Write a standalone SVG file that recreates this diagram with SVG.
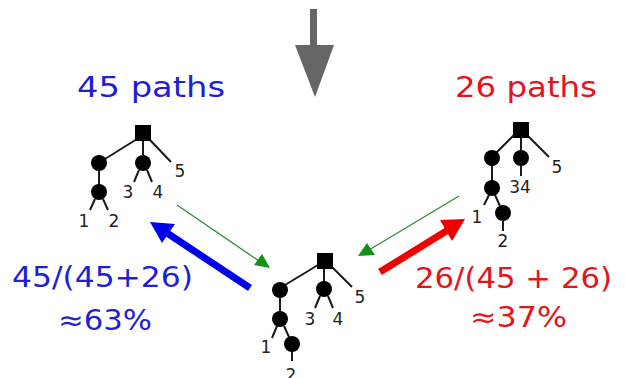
<svg xmlns="http://www.w3.org/2000/svg" width="625" height="378" viewBox="0 0 625 378">
<style>
.e{stroke:#1a1a1a;stroke-width:2;fill:none}
.n{fill:#000}
.d{font-family:"DejaVu Sans",sans-serif;font-size:17px;fill:#222;text-anchor:middle}
.big{font-family:"DejaVu Sans",sans-serif;font-size:28px;text-anchor:middle}
.b{fill:#1f1fd6}
.r{fill:#e4141c}
.g{stroke:#2e8b2e;stroke-width:1.3}
.gh{fill:#139013}
</style>
<rect width="625" height="378" fill="#fff"/>
<g id="down-arrow" fill="#666">
<rect x="310" y="9" width="7" height="37"/>
<polygon points="295,45 334,45 315,97"/>
</g>
<g id="title-left"><text class="big b" x="151" y="97" textLength="148" lengthAdjust="spacingAndGlyphs">45 paths</text></g>
<g id="title-right"><text class="big r" x="526" y="97" textLength="142" lengthAdjust="spacingAndGlyphs">26 paths</text></g>
<g id="tree-left">
<path class="e" d="M137,139 L105,159 M143,141 L143,160 M149,139 L171,162 M99,163 L99,192 M139,170 L134,182 M147,170 L152,182 M95,199 L90,210 M103,199 L108,210"/>
<rect class="n" x="135" y="125" width="16" height="16"/>
<circle class="n" cx="99" cy="163" r="8"/>
<circle class="n" cx="143" cy="163" r="8"/>
<circle class="n" cx="99" cy="192" r="8"/>
<text class="d" x="180" y="177">5</text>
<text class="d" x="128" y="198">3</text>
<text class="d" x="158" y="198">4</text>
<text class="d" x="84" y="227">1</text>
<text class="d" x="114" y="227">2</text>
</g>
<g id="tree-right">
<path class="e" d="M515,134 L496,153 M521,137 L521,155 M526,134 L549,157 M492,158 L492,188 M521,166 L521,176 M489,195 L484,205 M495,195 L500,206 M503,220 L503,231"/>
<rect class="n" x="513" y="122" width="16" height="16"/>
<circle class="n" cx="492" cy="158" r="8"/>
<circle class="n" cx="521" cy="158" r="8"/>
<circle class="n" cx="492" cy="188" r="8"/>
<circle class="n" cx="503" cy="213" r="8"/>
<text class="d" x="557" y="173">5</text>
<text class="d" x="520" y="193">34</text>
<text class="d" x="477" y="223">1</text>
<text class="d" x="503" y="247">2</text>
</g>
<g id="tree-bottom">
<path class="e" d="M318,265 L285,285 M324,268 L324,284 M330,265 L352,287 M280,290 L280,319 M320,296 L315,308 M328,296 L333,308 M277,326 L272,338 M284,326 L289,337 M292,351 L292,361"/>
<rect class="n" x="317" y="253" width="16" height="16"/>
<circle class="n" cx="280" cy="290" r="8"/>
<circle class="n" cx="324" cy="289" r="8"/>
<circle class="n" cx="280" cy="319" r="8"/>
<circle class="n" cx="292" cy="344" r="8"/>
<text class="d" x="360" y="303">5</text>
<text class="d" x="310" y="325">3</text>
<text class="d" x="338" y="325">4</text>
<text class="d" x="266" y="353">1</text>
<text class="d" x="291" y="381">2</text>
</g>
<g id="connectors">
<line class="g" x1="177" y1="205" x2="259" y2="261"/>
<polygon class="gh" points="270,268 254,265 262,254"/>
<line class="g" x1="459" y1="196" x2="369" y2="250"/>
<polygon class="gh" points="358,256 367,243 375,255"/>
<line x1="250" y1="288" x2="167" y2="233" stroke="#0000f0" stroke-width="7"/>
<polygon points="150,222 175,224 162,243" fill="#0000f0"/>
<line x1="380" y1="272" x2="448" y2="230" stroke="#f00000" stroke-width="7"/>
<polygon points="465,219 440,220 452,241" fill="#f00000"/>
</g>
<g id="label-left">
<text class="big b" x="102.5" y="287" textLength="181" lengthAdjust="spacingAndGlyphs">45/(45+26)</text>
<text class="big b" x="105" y="330" textLength="94" lengthAdjust="spacingAndGlyphs">≈63%</text>
</g>
<g id="label-right">
<text class="big r" x="513.5" y="288" textLength="197" lengthAdjust="spacingAndGlyphs">26/(45 + 26)</text>
<text class="big r" x="518.5" y="327" textLength="97" lengthAdjust="spacingAndGlyphs">≈37%</text>
</g>
</svg>
